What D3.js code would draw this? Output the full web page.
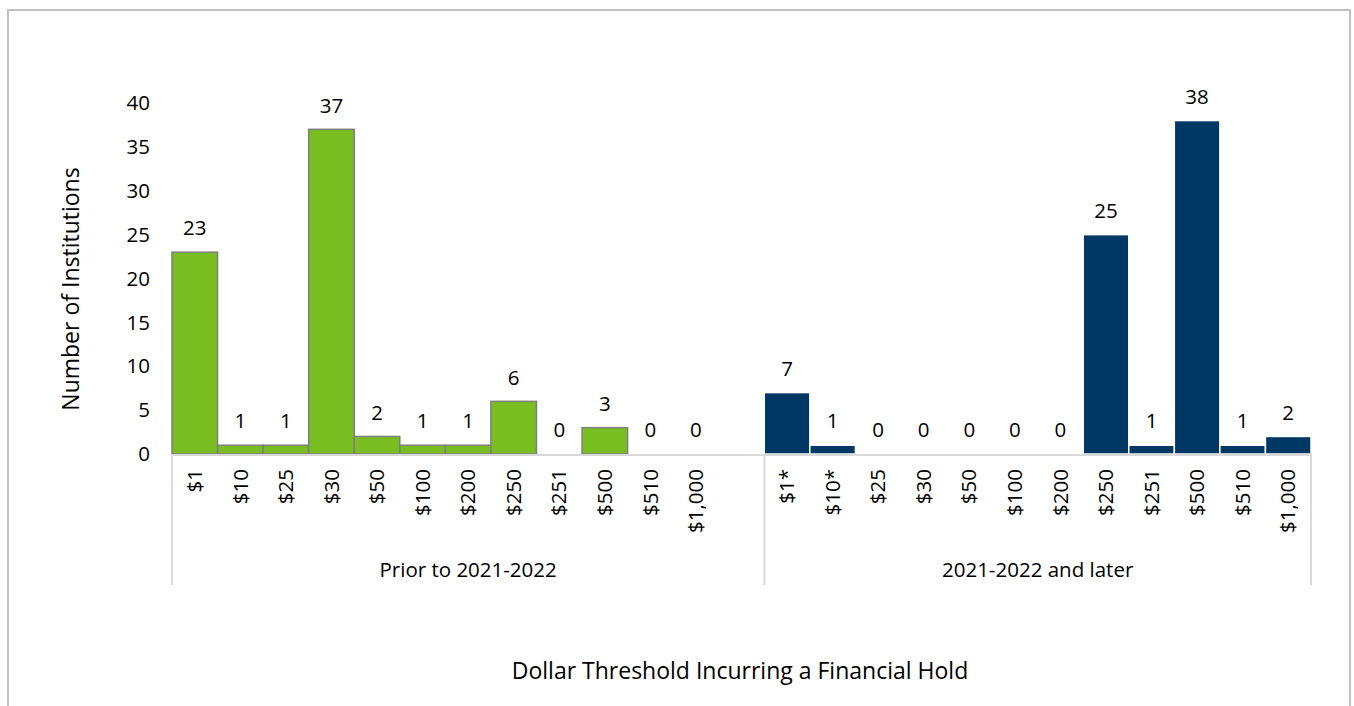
<!DOCTYPE html>
<html>
<head>
<meta charset="utf-8">
<script src="https://cdn.jsdelivr.net/npm/d3@7"></script>
<style>
  body { margin: 0; background: #fff; }
  svg { display: block; font-family: "Open Sans", Lato, sans-serif; }
</style>
</head>
<body>
<script>
let W = 1354
let H = 706

// data
let priorLabels = ["$1", "$10", "$25", "$30", "$50", "$100", "$200", "$250", "$251", "$500", "$510", "$1,000"]
let priorValues = [23, 1, 1, 37, 2, 1, 1, 6, 0, 3, 0, 0]
let laterLabels = ["$1*", "$10*", "$25", "$30", "$50", "$100", "$200", "$250", "$251", "$500", "$510", "$1,000"]
let laterValues = [7, 1, 0, 0, 0, 0, 0, 25, 1, 38, 1, 2]
let groupNames = ["Prior to 2021-2022", "2021-2022 and later"]
let yTicks = [0, 5, 10, 15, 20, 25, 30, 35, 40]

let prior = priorLabels.map((l, i) => ({ key: "p" + i, label: l, value: priorValues[i], grp: 0 }))
let later = laterLabels.map((l, i) => ({ key: "l" + i, label: l, value: laterValues[i], grp: 1 }))
let all = prior.concat(later)
// the left group carries one empty slot at its end
let domain = prior.map(d => d.key).concat(["blank"], later.map(d => d.key))

let pLeft = 172, pRight = 1311, pTop = 103, pBottom = 454
let fs = 20.5

let x = d3.scaleBand().domain(domain).range([pLeft, pRight]).padding(0)
let y = d3.scaleLinear().domain([0, 40]).range([pBottom, pTop])

let svg = d3.select("body").append("svg")
    .attr("width", W)
    .attr("height", H)

// outer frame
svg.append("rect")
    .attr("x", 8).attr("y", 10)
    .attr("width", 1342).attr("height", 720)
    .attr("fill", "none")
    .attr("stroke", "#bfbfbf")
    .attr("stroke-width", 2)

// y axis labels
svg.append("g")
    .selectAll("text")
    .data(yTicks)
    .enter()
    .append("text")
    .attr("x", 150)
    .attr("y", d => y(d))
    .attr("dy", "0.35em")
    .attr("text-anchor", "end")
    .attr("font-size", fs)
    .attr("fill", "#000")
    .text(d => d)

// bars
svg.append("g")
    .selectAll("rect")
    .data(all)
    .enter()
    .append("rect")
    .attr("x", d => x(d.key))
    .attr("y", d => y(d.value))
    .attr("width", x.bandwidth())
    .attr("height", d => pBottom - y(d.value))
    .attr("fill", d => d.grp == 0 ? "#78be20" : "#003865")
    .attr("stroke", d => d.grp == 0 ? "#7f7f7f" : "#fff")
    .attr("stroke-width", 1.5)
    .attr("display", d => d.value == 0 ? "none" : null)

// data labels
svg.append("g")
    .selectAll("text")
    .data(all)
    .enter()
    .append("text")
    .attr("x", d => x(d.key) + x.bandwidth() / 2)
    .attr("y", d => y(d.value) - 24)
    .attr("dy", "0.35em")
    .attr("text-anchor", "middle")
    .attr("font-size", fs)
    .text(d => d.value)

// axis line and group dividers
let axisColor = "#d9d9d9"
svg.append("line")
    .attr("x1", pLeft).attr("x2", pRight)
    .attr("y1", pBottom + 1).attr("y2", pBottom + 1)
    .attr("stroke", axisColor).attr("stroke-width", 2)

let dividers = [pLeft, x(later[0].key), pRight]
svg.append("g")
    .selectAll("line")
    .data(dividers)
    .enter()
    .append("line")
    .attr("x1", d => d).attr("x2", d => d)
    .attr("y1", pBottom).attr("y2", 585)
    .attr("stroke", axisColor).attr("stroke-width", 2)

// category labels, rotated
svg.append("g")
    .selectAll("text")
    .data(all)
    .enter()
    .append("text")
    .attr("transform", d => "translate(" + (x(d.key) + x.bandwidth() / 2) + ",469) rotate(-90)")
    .attr("dy", "0.35em")
    .attr("text-anchor", "end")
    .attr("font-size", fs)
    .text(d => d.label)

// group labels
svg.append("g")
    .selectAll("text")
    .data(groupNames)
    .enter()
    .append("text")
    .attr("x", (d, i) => (dividers[i] + dividers[i + 1]) / 2)
    .attr("y", 570)
    .attr("dy", "0.35em")
    .attr("text-anchor", "middle")
    .attr("font-size", fs)
    .text(d => d)

// axis titles
svg.append("text")
    .attr("transform", "translate(71,289) rotate(-90)")
    .attr("dy", "0.35em")
    .attr("text-anchor", "middle")
    .attr("font-size", 23)
    .text("Number of Institutions")

svg.append("text")
    .attr("x", 740)
    .attr("y", 671)
    .attr("dy", "0.35em")
    .attr("text-anchor", "middle")
    .attr("font-size", 23)
    .text("Dollar Threshold Incurring a Financial Hold")
</script>
</body>
</html>
